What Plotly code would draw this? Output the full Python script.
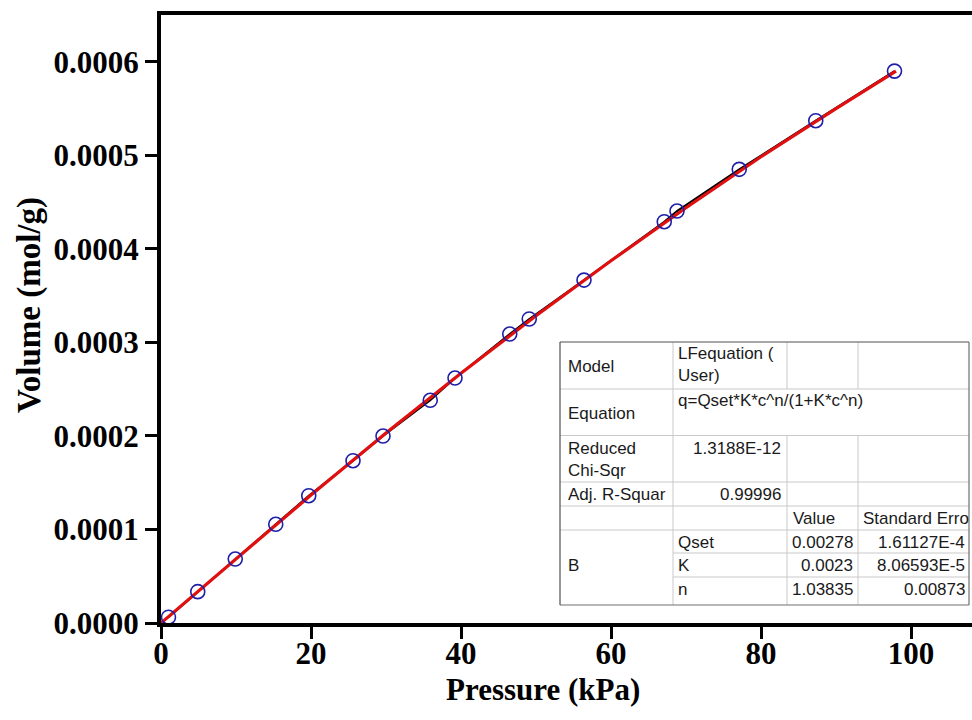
import plotly.graph_objects as go

# ---- data ----
pressure = [1.0, 4.9, 9.9, 15.3, 19.7, 25.6, 29.6, 35.9, 39.2, 46.5, 49.1,
            56.4, 67.1, 68.8, 77.1, 87.3, 97.8]
volume = [0.0000062, 0.0000335, 0.0000684, 0.0001055, 0.0001361, 0.0001735,
          0.0001999, 0.0002381, 0.0002619, 0.0003089, 0.0003250, 0.0003666,
          0.0004290, 0.0004404, 0.0004850, 0.0005370, 0.0005900]

fit_x = [0, 10, 20, 30, 40, 50, 60, 70, 80, 90, 98]
fit_y = [0.0, 0.0000685, 0.0001368, 0.0002032, 0.0002670, 0.0003284,
         0.0003872, 0.0004440, 0.0004985, 0.0005500, 0.0005900]

x_ticks = [0, 20, 40, 60, 80, 100]
y_ticks = [0.0, 0.0001, 0.0002, 0.0003, 0.0004, 0.0005, 0.0006]

table_rows = [
    ["Model", "LFequation (<br>User)", "", ""],
    ["Equation", "q=Qset*K*c^n/(1+K*c^n)", "", ""],
    ["Reduced<br>Chi-Sqr", "1.3188E-12", "", ""],
    ["Adj. R-Squar", "0.99996", "", ""],
    ["", "", "Value", "Standard Erro"],
    ["B", "Qset", "0.00278", "1.61127E-4"],
    ["", "K", "0.0023", "8.06593E-5"],
    ["", "n", "1.03835", "0.00873"],
]

# ---- layout geometry (pixels) ----
W, H = 972, 720
L, R, T, B = 161, 0, 15, 97
PW, PH = W - L - R, H - T - B


def px(x):
    return (x - L) / PW


def py(y):
    return (H - B - y) / PH


serif = "Liberation Serif"
sans = "Liberation Sans"

fig = go.Figure()
fig.add_trace(go.Scatter(x=pressure, y=volume, mode="lines",
                         line=dict(color="black", width=2),
                         showlegend=False, hoverinfo="skip"))
fig.add_trace(go.Scatter(x=fit_x, y=fit_y, mode="lines",
                         line=dict(color="#e01010", width=3.2),
                         showlegend=False))
fig.add_trace(go.Scatter(x=pressure, y=volume, mode="markers",
                         marker=dict(symbol="circle-open", size=14,
                                     color="#1e1ea8",
                                     line=dict(width=1.6, color="#1e1ea8")),
                         showlegend=False, cliponaxis=False))

# ---- table (Origin fit-result box) ----
shapes = []
annos = []
col_x = [560, 673, 787, 858, 969]
row_y = [342, 389, 435.5, 482, 506, 530, 553, 577, 605]
light = "#c9c9c9"
dark = "#505050"

shapes.append(dict(type="rect", xref="paper", yref="paper",
                   x0=px(col_x[0]), x1=px(col_x[-1]),
                   y0=py(row_y[-1]), y1=py(row_y[0]),
                   fillcolor="white", line=dict(width=0), layer="above"))


def hline(y, x0, x1, color=light, w=1):
    shapes.append(dict(type="line", xref="paper", yref="paper",
                       x0=px(x0), x1=px(x1), y0=py(y), y1=py(y),
                       line=dict(color=color, width=w), layer="above"))


def vline(x, y0, y1, color=light, w=1):
    shapes.append(dict(type="line", xref="paper", yref="paper",
                       x0=px(x), x1=px(x), y0=py(y0), y1=py(y1),
                       line=dict(color=color, width=w), layer="above"))


for i, y in enumerate(row_y[1:-1], start=1):
    if i >= 6:
        hline(y, col_x[1], col_x[-1])
    else:
        hline(y, col_x[0], col_x[-1])
vline(col_x[1], row_y[0], row_y[-1])
for cx in (col_x[2], col_x[3]):
    vline(cx, row_y[0], row_y[1])
    vline(cx, row_y[2], row_y[-1])
# outer border
hline(row_y[0], col_x[0], col_x[-1], dark, 1.2)
hline(row_y[-1], col_x[0], col_x[-1], "#707070", 1.2)
vline(col_x[0], row_y[0], row_y[-1], dark, 1.2)
vline(col_x[-1], row_y[0], row_y[-1], "#707070", 1.2)

cell_font = dict(family=sans, size=17, color="#1a1a1a")


def txt(s, x, y, anchor="left"):
    annos.append(dict(text=s, xref="paper", yref="paper", x=px(x), y=py(y),
                      xanchor=anchor, yanchor="middle", showarrow=False,
                      font=cell_font, align=anchor))


# column 0
txt(table_rows[0][0], 566, 366)
txt(table_rows[1][0], 566, 413)
txt(table_rows[2][0], 566, 459)
txt(table_rows[3][0], 566, 494)
txt(table_rows[5][0], 566, 565)
# column 1
txt(table_rows[0][1], 676, 364)
txt(table_rows[1][1], 676, 400)
txt(table_rows[2][1], 783, 448, "right")
txt(table_rows[3][1], 783, 494, "right")
txt(table_rows[5][1], 676, 542)
txt(table_rows[6][1], 676, 565)
txt(table_rows[7][1], 676, 589)
# column 2
txt(table_rows[4][2], 791, 518)
txt(table_rows[5][2], 855, 542, "right")
txt(table_rows[6][2], 855, 565, "right")
txt(table_rows[7][2], 855, 589, "right")
# column 3
txt(table_rows[4][3], 861, 518)
txt(table_rows[5][3], 967, 542, "right")
txt(table_rows[6][3], 967, 565, "right")
txt(table_rows[7][3], 967, 589, "right")

# axis titles
annos.append(dict(text="Pressure (kPa)", xref="paper", yref="paper",
                  x=px(543), y=py(689), xanchor="center", yanchor="middle",
                  showarrow=False,
                  font=dict(family=serif, size=31, color="black", weight="bold")))
annos.append(dict(text="Volume (mol/g)", xref="paper", yref="paper",
                  x=px(29), y=py(305), xanchor="center", yanchor="middle",
                  showarrow=False, textangle=-90,
                  font=dict(family=serif, size=33, color="black", weight="bold")))

tickfont = dict(family=serif, size=31, color="black", weight="bold")

fig.update_layout(
    width=W, height=H,
    margin=dict(l=L, r=R, t=T, b=B, pad=0),
    paper_bgcolor="white", plot_bgcolor="white",
    shapes=shapes, annotations=annos,
    xaxis=dict(range=[0, PW / 7.5], tickvals=x_ticks, showgrid=False,
               zeroline=False, showline=True, linecolor="black", linewidth=4,
               mirror=True, ticks="outside", ticklen=12, tickwidth=3,
               tickcolor="black", tickfont=tickfont, ticklabelstandoff=-12),
    yaxis=dict(range=[0, 0.00065], tickvals=y_ticks, tickformat=".4f",
               showgrid=False, zeroline=False, showline=True,
               linecolor="black", linewidth=4, mirror=False,
               ticks="outside", ticklen=12, tickwidth=3, tickcolor="black",
               tickfont=tickfont),
)

fig.write_html("out.html")
